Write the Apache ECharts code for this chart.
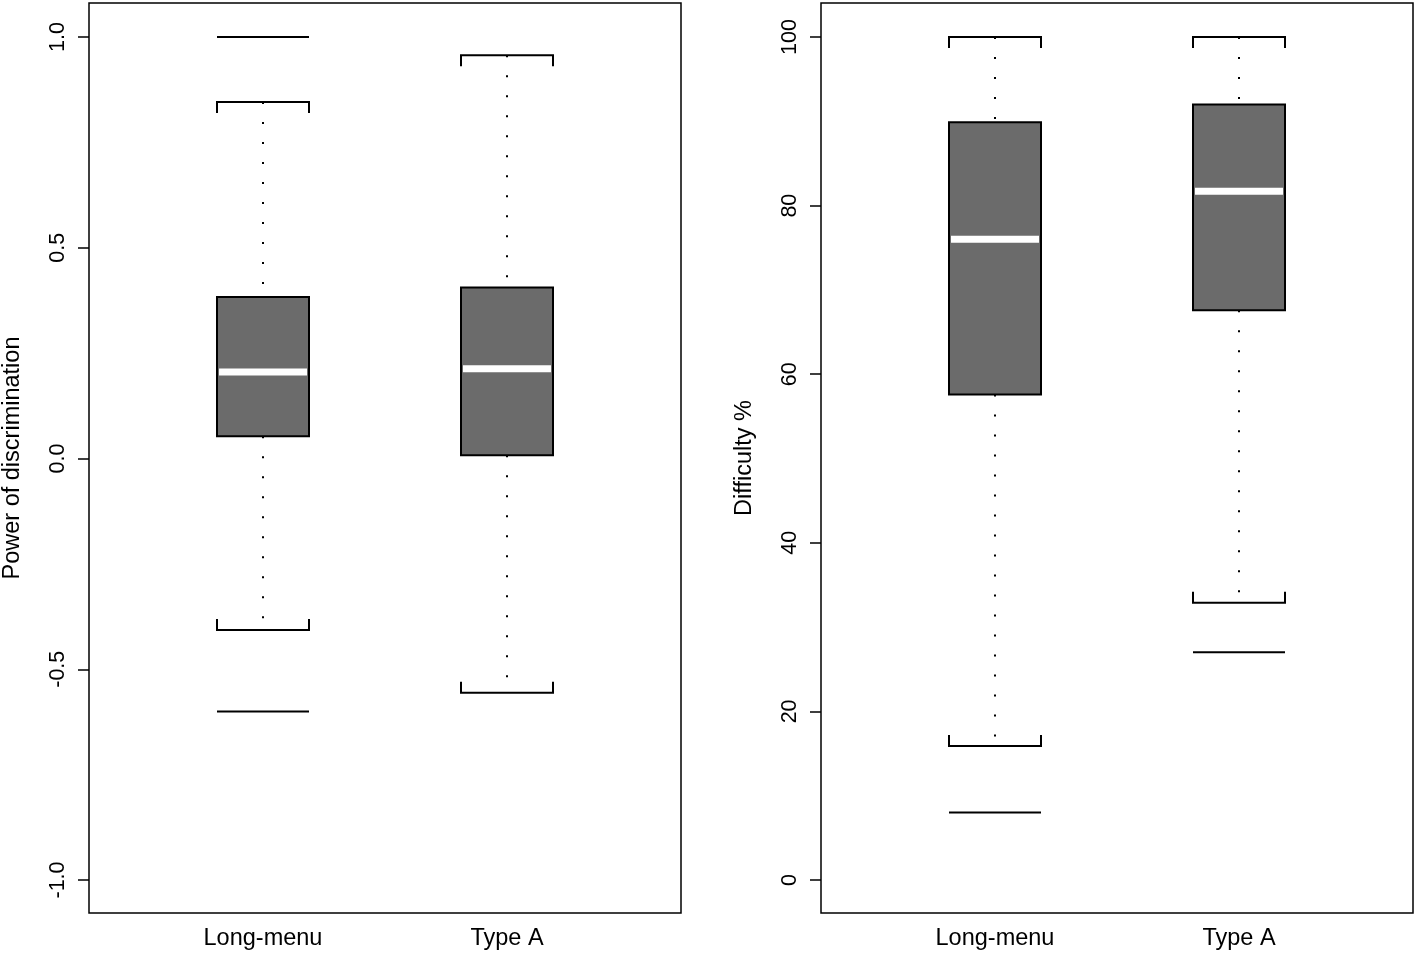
<!DOCTYPE html>
<html>
<head>
<meta charset="utf-8">
<script src="https://cdn.jsdelivr.net/npm/echarts@6/dist/echarts.min.js"></script>
<style>html,body{margin:0;padding:0;background:#fff;}#c{width:1418px;height:954px;}</style>
</head>
<body>
<div id="c"></div>
<script>
// ---- data ----
const categories = ['Long-menu', 'Type A'];
// [lowerWhisker, Q1, median, Q3, upperWhisker]
const discriminationStats = [
  [-0.407, 0.053, 0.205, 0.383, 0.846],
  [-0.556, 0.008, 0.213, 0.406, 0.957]
];
// extra min/max marks: [categoryIndex, value]
const discriminationMarks = [[0, 1.0], [0, -0.6]];
const difficultyStats = [
  [15.9, 57.6, 76.0, 89.9, 100],
  [32.9, 67.6, 81.7, 92.0, 100]
];
const difficultyMarks = [[0, 8], [1, 27]];
const discriminationTicks = [-1, -0.5, 0, 0.5, 1];
const difficultyTicks = [0, 20, 40, 60, 80, 100];

const FONT = 'Liberation Sans, Arial, sans-serif';
const HALF = 46;

function boxData(stats) {
  return stats.map((s, i) => [i + 1].concat(s));
}
function markData(marks) {
  return marks.map(m => [m[0] + 1, m[1]]);
}

function renderBox(params, api) {
  const x = api.value(0);
  const lo = api.coord([x, api.value(1)]);
  const q1 = api.coord([x, api.value(2)]);
  const md = api.coord([x, api.value(3)]);
  const q3 = api.coord([x, api.value(4)]);
  const hi = api.coord([x, api.value(5)]);
  const cx = Math.round(lo[0]);
  const black = {stroke: '#000', lineWidth: 2, fill: null};
  const dotted = {stroke: '#000', lineWidth: 2, lineDash: [2, 18], fill: null};
  return {
    type: 'group',
    children: [
      {type: 'line', shape: {x1: cx, y1: hi[1], x2: cx, y2: q3[1]}, style: dotted},
      {type: 'line', shape: {x1: cx, y1: q1[1], x2: cx, y2: lo[1]}, style: dotted},
      {type: 'polyline', shape: {points: [[cx - HALF, hi[1] + 11], [cx - HALF, hi[1]], [cx + HALF, hi[1]], [cx + HALF, hi[1] + 11]]}, style: black},
      {type: 'polyline', shape: {points: [[cx - HALF, lo[1] - 11], [cx - HALF, lo[1]], [cx + HALF, lo[1]], [cx + HALF, lo[1] - 11]]}, style: black},
      {type: 'rect', shape: {x: cx - HALF, y: q3[1], width: 2 * HALF, height: q1[1] - q3[1]}, style: {fill: '#6b6b6b', stroke: '#000', lineWidth: 2}},
      {type: 'rect', shape: {x: cx - HALF + 2, y: md[1] - 3.5, width: 2 * HALF - 4, height: 7}, style: {fill: '#ffffff'}}
    ]
  };
}
function renderMark(params, api) {
  const p = api.coord([api.value(0), api.value(1)]);
  const cx = Math.round(p[0]);
  return {type: 'line', shape: {x1: cx - HALF, y1: p[1], x2: cx + HALF, y2: p[1]}, style: {stroke: '#000', lineWidth: 2}};
}

function xAxisDef(gi) {
  return {
    type: 'value', gridIndex: gi, min: 0.287, max: 2.713,
    splitLine: {show: false}, axisLine: {show: false}, axisTick: {show: false},
    axisLabel: {customValues: [1, 2], formatter: v => categories[Math.round(v) - 1], color: '#000', fontSize: 23.5, fontFamily: FONT, margin: 14}
  };
}
function yAxisDef(gi, min, max, ticks, name, fmt) {
  return {
    type: 'value', gridIndex: gi, min: min, max: max,
    name: name, nameLocation: 'middle', nameGap: 64,
    nameTextStyle: {color: '#000', fontSize: 23.5, fontFamily: FONT},
    splitLine: {show: false},
    axisLine: {show: false},
    axisTick: {show: true, customValues: ticks, length: 11, lineStyle: {color: '#000', width: 1.5}},
    axisLabel: {customValues: ticks, formatter: fmt, rotate: 90, color: '#000', fontSize: 21.5, fontFamily: FONT, margin: 20}
  };
}

const chart = echarts.init(document.getElementById('c'), null, {renderer: 'canvas'});
chart.setOption({
  animation: false,
  backgroundColor: '#fff',
  grid: [
    {left: 89, top: 3, width: 592, height: 910, show: true, borderColor: '#000', borderWidth: 1.5, backgroundColor: 'transparent'},
    {left: 821, top: 3, width: 592, height: 910, show: true, borderColor: '#000', borderWidth: 1.5, backgroundColor: 'transparent'}
  ],
  xAxis: [xAxisDef(0), xAxisDef(1)],
  yAxis: [
    yAxisDef(0, -1.0783, 1.0807, discriminationTicks, 'Power of discrimination', v => v.toFixed(1)),
    yAxisDef(1, -3.92, 104.04, difficultyTicks, 'Difficulty %', v => String(Math.round(v)))
  ],
  series: [
    {type: 'custom', xAxisIndex: 0, yAxisIndex: 0, data: boxData(discriminationStats), renderItem: renderBox, silent: true},
    {type: 'custom', xAxisIndex: 0, yAxisIndex: 0, data: markData(discriminationMarks), renderItem: renderMark, silent: true},
    {type: 'custom', xAxisIndex: 1, yAxisIndex: 1, data: boxData(difficultyStats), renderItem: renderBox, silent: true},
    {type: 'custom', xAxisIndex: 1, yAxisIndex: 1, data: markData(difficultyMarks), renderItem: renderMark, silent: true}
  ]
});
</script>
</body>
</html>
